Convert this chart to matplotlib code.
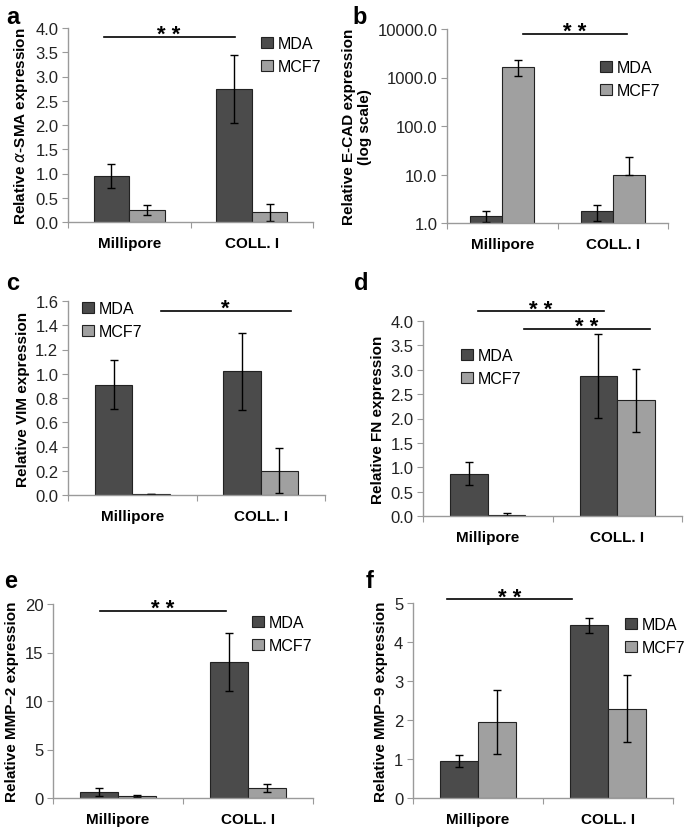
import matplotlib
matplotlib.use('Agg')
import matplotlib.pyplot as plt
import numpy as np
from matplotlib.patches import Patch

plt.rcParams['font.family'] = ['Liberation Sans', 'DejaVu Sans']

categories = ['Millipore', 'COLL. I']
series = ['MDA', 'MCF7']

# panel a: alpha-SMA
a_mda = [0.95, 2.74]
a_mda_err = [0.25, 0.70]
a_mcf7 = [0.25, 0.20]
a_mcf7_err = [0.10, 0.18]

# panel b: E-CAD (log)
b_mda = [1.4, 1.75]
b_mda_err_lo = [0.35, 0.65]
b_mda_err_hi = [0.4, 0.65]
b_mcf7 = [1660, 9.8]
b_mcf7_err_lo = [580, 0]
b_mcf7_err_hi = [640, 13]

# panel c: VIM
c_mda = [0.91, 1.02]
c_mda_err = [0.20, 0.32]
c_mcf7 = [0.005, 0.20]
c_mcf7_err = [0.0, 0.185]

# panel d: FN
d_mda = [0.87, 2.88]
d_mda_err = [0.23, 0.86]
d_mcf7 = [0.03, 2.37]
d_mcf7_err = [0.03, 0.65]

# panel e: MMP-2
e_mda = [0.6, 14.0]
e_mda_err = [0.38, 3.0]
e_mcf7 = [0.2, 1.0]
e_mcf7_err = [0.13, 0.4]

# panel f: MMP-9
f_mda = [0.94, 4.43]
f_mda_err = [0.15, 0.19]
f_mcf7 = [1.95, 2.29]
f_mcf7_err = [0.82, 0.86]

W, H = 685, 828
fig = plt.figure(figsize=(W / 100, H / 100), dpi=100)

DARK = '#4b4b4b'
LIGHT = '#a0a0a0'
SPINE = '#9a9a9a'


def box(x0, x1, yt, yb):
    return [x0 / W, 1 - yb / H, (x1 - x0) / W, (yb - yt) / H]


def panel(rect, mda, mda_err, mcf7, mcf7_err, ylabel, yticks, ylabels,
          ylim, letter, letter_xy, leg_xy, sigs, log=False):
    ax = fig.add_axes(box(*rect))
    x = np.arange(len(categories))
    w = 0.29
    ek = dict(ecolor='black', elinewidth=1, capsize=3, capthick=1)
    ax.bar(x - w / 2, mda, w, color=DARK, edgecolor='#222222', linewidth=0.8,
           yerr=mda_err, error_kw=ek, label=series[0], zorder=2)
    ax.bar(x + w / 2, mcf7, w, color=LIGHT, edgecolor='#222222', linewidth=0.8,
           yerr=mcf7_err, error_kw=ek, label=series[1], zorder=2)
    if log:
        ax.set_yscale('log')
    ax.set_xlim(-0.5, 1.5)
    ax.set_ylim(*ylim)
    ax.set_yticks(yticks)
    ax.set_yticklabels(ylabels, fontsize=12, color='#222222')
    ax.yaxis.set_minor_locator(matplotlib.ticker.NullLocator())
    ax.set_xticks([-0.5, 0.5, 1.5])
    ax.set_xticklabels([])
    ax.set_xticks(x, minor=True)
    ax.set_xticklabels(categories, minor=True, fontsize=11, fontweight='bold')
    ax.tick_params(axis='x', which='minor', length=0, pad=10)
    ax.tick_params(axis='x', which='major', length=4, color=SPINE)
    ax.tick_params(axis='y', length=4, color=SPINE, pad=3)
    for s in ['top', 'right']:
        ax.spines[s].set_visible(False)
    for s in ['left', 'bottom']:
        ax.spines[s].set_color(SPINE)
        ax.spines[s].set_linewidth(1)
    ax.set_ylabel(ylabel, fontsize=11, fontweight='bold', labelpad=4)
    for x0, x1, y, txt in sigs:
        ax.plot([x0, x1], [y, y], color='black', lw=1.2, clip_on=False)
        ax.annotate(txt, xy=((x0 + x1) / 2, y), xytext=(0, -2.5),
                    textcoords='offset points', ha='center', va='baseline',
                    fontsize=16, fontweight='bold', annotation_clip=False)
    handles = [Patch(facecolor=DARK, edgecolor='#222222', linewidth=0.8),
               Patch(facecolor=LIGHT, edgecolor='#222222', linewidth=0.8)]
    ax.legend(handles, series, loc='upper left',
              bbox_to_anchor=(leg_xy[0] / W, 1 - leg_xy[1] / H),
              bbox_transform=fig.transFigure, frameon=False, fontsize=11.5,
              handlelength=0.75, handleheight=0.75, handletextpad=0.3,
              labelspacing=0.5, borderpad=0, borderaxespad=0)
    fig.text(letter_xy[0] / W, 1 - letter_xy[1] / H, letter, fontsize=17,
             fontweight='bold', va='top', ha='left')
    return ax


panel((68, 313, 29, 223), a_mda, a_mda_err, a_mcf7, a_mcf7_err,
      r'Relative $\alpha$-SMA expression',
      np.arange(0, 4.01, 0.5), ['%.1f' % v for v in np.arange(0, 4.01, 0.5)],
      (0, 4.0), 'a', (6, 6), (261, 37),
      [(-0.21, 0.86, 3.82, '* *')])

panel((447, 668, 30, 224), b_mda, [b_mda_err_lo, b_mda_err_hi],
      b_mcf7, [b_mcf7_err_lo, b_mcf7_err_hi],
      'Relative E-CAD expression\n(log scale)',
      [1, 10, 100, 1000, 10000], ['1.0', '10.0', '100.0', '1000.0', '10000.0'],
      (1, 10000), 'b', (352, 6), (600, 61),
      [(0.19, 1.13, 7900, '* *')], log=True)

panel((68, 325, 302, 496), c_mda, c_mda_err, c_mcf7, c_mcf7_err,
      'Relative VIM expression',
      np.arange(0, 1.61, 0.2), ['%.1f' % v for v in np.arange(0, 1.61, 0.2)],
      (0, 1.6), 'c', (6, 272), (82, 302),
      [(0.22, 1.235, 1.52, '*')])

panel((423, 682, 322, 517), d_mda, d_mda_err, d_mcf7, d_mcf7_err,
      'Relative FN expression',
      np.arange(0, 4.01, 0.5), ['%.1f' % v for v in np.arange(0, 4.01, 0.5)],
      (0, 4.0), 'd', (354, 272), (461, 349),
      [(-0.075, 0.9, 4.2, '* *'), (0.28, 1.253, 3.84, '* *')])

panel((53, 313, 605, 799), e_mda, e_mda_err, e_mcf7, e_mcf7_err,
      'Relative MMP\u20132 expression',
      [0, 5, 10, 15, 20], ['0', '5', '10', '15', '20'],
      (0, 20), 'e', (4, 570), (252, 616),
      [(-0.14, 0.83, 19.3, '* *')])

panel((413, 673, 604, 799), f_mda, f_mda_err, f_mcf7, f_mcf7_err,
      'Relative MMP\u20139 expression',
      [0, 1, 2, 3, 4, 5], ['0', '1', '2', '3', '4', '5'],
      (0, 5), 'f', (366, 570), (625, 618),
      [(-0.24, 0.72, 5.1, '* *')])

fig.savefig('out.png', dpi=100)
